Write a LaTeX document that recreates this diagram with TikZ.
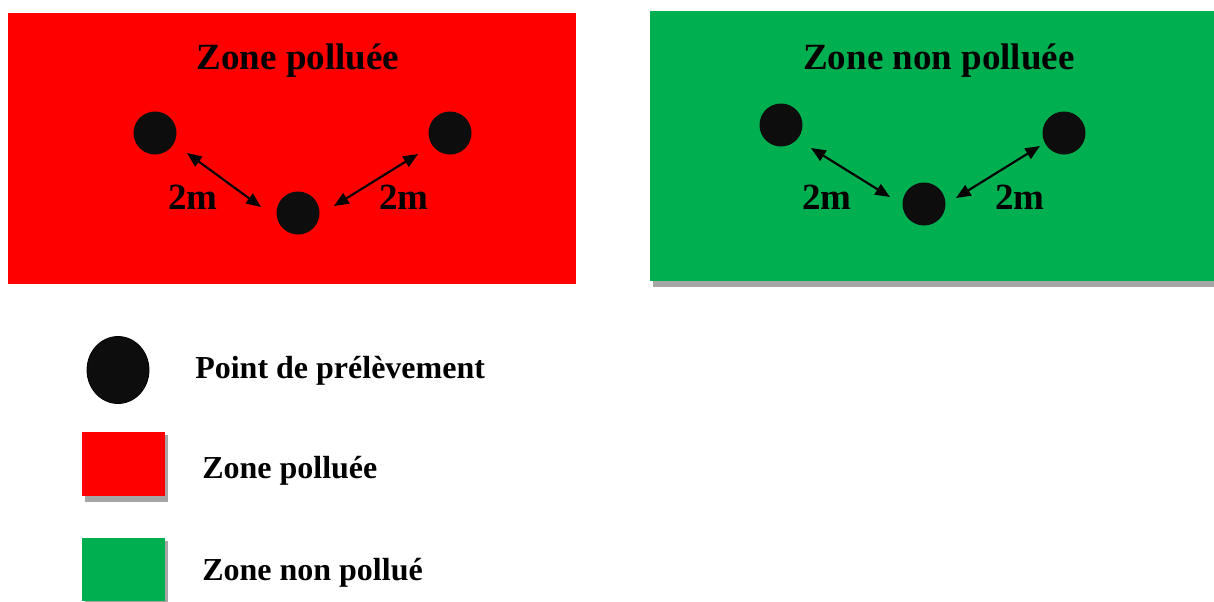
\documentclass[tikz,border=0pt]{standalone}
\usepackage{fontspec}
\setmainfont{Liberation Serif}
\usetikzlibrary{arrows.meta,shapes.geometric}
\definecolor{zred}{HTML}{FF0000}
\definecolor{zgreen}{HTML}{00B050}
\definecolor{dot}{HTML}{0D0D0D}
\definecolor{shadowgrey}{HTML}{A6A6A6}
\tikzset{
  pt/.style={circle,fill=dot,minimum size=43*0.75pt,inner sep=0pt},
  title/.style={anchor=base,font=\fontsize{27.75}{30}\selectfont\bfseries,inner sep=0pt},
  dist/.style={anchor=base,font=\fontsize{27.75}{30}\selectfont\bfseries,inner sep=0pt},
  legtxt/.style={anchor=base west,font=\fontsize{24}{28}\selectfont\bfseries,inner sep=0pt},
  twoway/.style={{Triangle[length=11pt,width=9pt]}-{Triangle[length=11pt,width=9pt]},line width=1.6pt},
  shadowbox/.style={fill=shadowgrey},
}
\begin{document}
\begin{tikzpicture}[x=0.75pt,y=-0.75pt]
\useasboundingbox (0,0) rectangle (1214,601);
% red zone
\fill[zred] (8,13) rectangle (576,284);
\node[title] (tr) at (298,69) {Zone polluée};
\node[pt] (r1) at (155,133) {};
\node[pt] (r2) at (298,213) {};
\node[pt] (r3) at (450,133) {};
\coordinate (ra1) at (187,153);
\coordinate (ra2) at (261,207);
\coordinate (rb1) at (334,206);
\coordinate (rb2) at (418,154);
\draw[twoway] (ra1) -- (ra2);
\draw[twoway] (rb1) -- (rb2);
\node[dist] (rl) at (193,209) {2m};
\node[dist] (rr) at (404,209) {2m};
% green zone
\path[shadowbox] (653,15) rectangle (1217,287);
\fill[zgreen] (650,11) rectangle (1214,281);
\node[title] (tg) at (939,69) {Zone non polluée};
\node[pt] (g1) at (781,125) {};
\node[pt] (g2) at (924,204) {};
\node[pt] (g3) at (1064,133) {};
\coordinate (ga1) at (811,148);
\coordinate (ga2) at (890,197);
\coordinate (gb1) at (956,198);
\coordinate (gb2) at (1040,146);
\draw[twoway] (ga1) -- (ga2);
\draw[twoway] (gb1) -- (gb2);
\node[dist] (gl) at (827,209) {2m};
\node[dist] (gr) at (1020,209) {2m};
% legend
\node[ellipse,fill=dot,draw=black,line width=0.6pt,minimum width=62*0.75pt,minimum height=67*0.75pt,inner sep=0pt] (lp) at (118,370) {};
\node[legtxt] (lpt) at (195,378) {Point de prélèvement};
\path[shadowbox] (85,435) rectangle (168,502);
\fill[zred] (82,432) rectangle (165,496);
\node[legtxt] (lrt) at (202,478) {Zone polluée};
\path[shadowbox] (85,541) rectangle (168,604);
\fill[zgreen] (82,538) rectangle (165,601);
\node[legtxt] (lgt) at (202,580) {Zone non pollué};
\end{tikzpicture}
\end{document}
